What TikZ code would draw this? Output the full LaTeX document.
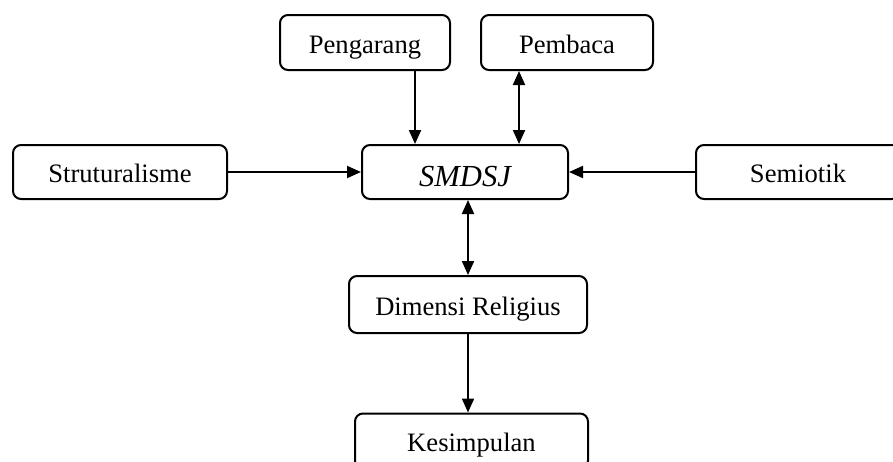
\documentclass[tikz,border=0pt]{standalone}
\usepackage{fontspec}
\setmainfont{Liberation Serif}
\usetikzlibrary{arrows.meta}

\begin{document}
\begin{tikzpicture}[x=0.5pt,y=-0.5pt,
		kotak/.style={draw,line width=1pt,rounded corners=4pt,inner sep=0pt,
			minimum height=27.5pt,text height=11pt,text depth=0.5pt,
			font=\fontsize{13.3}{16}\selectfont},
		panah/.style={line width=1pt,-{Triangle[length=7pt,width=6pt]}},
		panahdua/.style={line width=1pt,{Triangle[length=7pt,width=6pt]}-{Triangle[length=7pt,width=6pt]}}]
	\useasboundingbox (0,0) rectangle (893,461);
	% kotak-kotak
	\node[kotak,minimum width=85pt] (pengarang) at (365,42.5) {Pengarang};
	\node[kotak,minimum width=86pt] (pembaca) at (567,42.5) {Pembaca};
	\node[kotak,minimum width=107pt,minimum height=27pt] (strukt) at (120,172) {Struturalisme};
	\node[kotak,minimum width=103pt,minimum height=27pt,text height=14pt,text depth=0pt,
		font=\fontsize{15.3}{18}\selectfont\itshape] (smdsj) at (465,172) {SMDSJ};
	\node[kotak,minimum width=102pt,minimum height=27pt] (semiotik) at (798,172) {Semiotik};
	\node[kotak,minimum width=119pt,minimum height=28.5pt] (dimensi) at (468,304.5) {Dimensi Religius};
	\node[kotak,minimum width=116.5pt] (kesimpulan) at (471.5,441) {Kesimpulan};
	% panah
	\draw[panah] ([xshift=25pt]pengarang.south) -- ([xshift=25pt]pengarang.south |- smdsj.north);
	\draw[panahdua] ([xshift=-24pt]pembaca.south) -- ([xshift=-24pt]pembaca.south |- smdsj.north);
	\draw[panah] (strukt.east) -- (strukt.east -| smdsj.west);
	\draw[panah] (semiotik.west) -- (semiotik.west -| smdsj.east);
	\draw[panahdua] (dimensi.north |- smdsj.south) -- (dimensi.north);
	\draw[panah] (dimensi.south) -- (dimensi.south |- kesimpulan.north);
\end{tikzpicture}
\end{document}
